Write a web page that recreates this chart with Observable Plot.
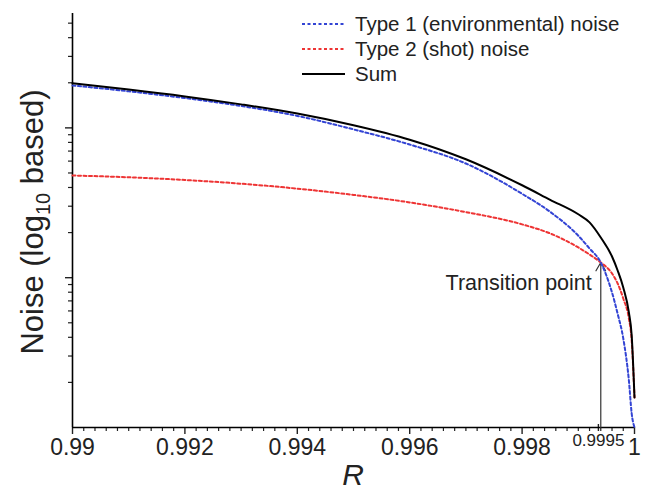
<!DOCTYPE html>
<html><head><meta charset="utf-8">
<script src="https://cdn.jsdelivr.net/npm/d3@7"></script>
<script src="https://cdn.jsdelivr.net/npm/@observablehq/plot@0.6"></script>
<style>
body{margin:0;background:#fff;}
#chart svg{font-family:"Liberation Sans", Arial, sans-serif;background:#fff;}
</style></head><body><div id="chart"></div>
<script>
// ---- data ----
const R = [0.99,0.991,0.992,0.993,0.994,0.995,0.996,0.997,0.998,0.9985,0.999,0.9992,0.9994,0.9996,0.9997,0.9998,0.9999,0.99995,1];
const type1 = [19.19,17.54,15.81,14.0,12.02,9.77,7.74,5.78,3.63,2.75,1.905,1.567,1.263,0.796,0.575,0.393,0.206,0.124,0.1];
const type2 = [4.81,4.68,4.49,4.24,3.93,3.57,3.18,2.74,2.27,1.973,1.591,1.428,1.263,1.067,0.915,0.726,0.534,0.381,0.1586];
const sum = [19.82,18.03,16.22,14.35,12.47,10.42,8.34,6.17,4.14,3.31,2.65,2.34,1.854,1.385,1.117,0.861,0.586,0.411,0.1585];
const seriesNames = ["Type 1 (environmental) noise","Type 2 (shot) noise","Sum"];
const seriesColors = ["#3344d4","#ee3434","#000000"];
const seriesDash = ["3,2.5","3,2.5",null];
const xTicks = [0.99,0.992,0.994,0.996,0.998,1];
const xTickLabels = ["0.99","0.992","0.994","0.996","0.998","1"];
const extraTick = [0.9995];
const extraTickLabel = ["0.9995"];
const yMajor = [1,10];
const transitionR = 0.9994, transitionNoise = 1.263, transitionLabelNoise = 0.915;
const transitionLabel = "Transition point";
const xLabel = "R";
const yLabelParts = ["Noise (log","10"," based)"];

const rows = s => R.map((r,i)=>({r, v:s[i]}));
const minorX = d3.range(0,51).map(i=>0.99+i*0.0002).filter(v=>!xTicks.some(t=>Math.abs(t-v)<1e-9));
const minorY = [0.2,0.3,0.4,0.5,0.6,0.7,0.8,0.9,2,3,4,5,6,7,8,9,20,30,40,50];

const W=646,H=490;
const plot = Plot.plot({
  width:W,height:H,
  marginLeft:72,marginRight:12,marginTop:13,marginBottom:63,
  style:{fontFamily:'"Liberation Sans", Arial, sans-serif',color:"#222"},
  x:{domain:[0.99,1]},
  y:{type:"log",domain:[0.1,58]},
  marks:[
    Plot.axisX(minorX,{tickSize:4,tickFormat:()=>"",label:null,strokeWidth:1.2}),
    Plot.axisX(xTicks,{tickSize:7,tickPadding:4,fontSize:23,label:null,strokeWidth:1.4,
      tickFormat:d=>xTickLabels[xTicks.findIndex(t=>Math.abs(t-d)<1e-9)]}),
    Plot.axisX(extraTick,{tickSize:7,tickPadding:2,fontSize:17,dx:-8,dy:-3,label:null,strokeWidth:1.4,
      tickFormat:()=>extraTickLabel[0]}),
    Plot.axisY(minorY,{tickSize:4,tickFormat:()=>"",label:null,strokeWidth:1.2}),
    Plot.axisY(yMajor,{tickSize:7,tickFormat:()=>"",label:null,strokeWidth:1.4}),
    Plot.ruleX([0.99],{stroke:"#000",strokeWidth:1.6}),
    Plot.ruleY([0.1],{stroke:"#000",strokeWidth:1.6}),
    Plot.arrow([{r:transitionR,y1:0.1,y2:transitionNoise}],{x1:"r",x2:"r",y1:"y1",y2:"y2",stroke:"#333",strokeWidth:1.2,headLength:12}),
    Plot.text([{r:transitionR,v:transitionLabelNoise}],{x:"r",y:"v",text:()=>transitionLabel,textAnchor:"end",dx:-9,fontSize:21.5,fill:"#222"}),
    Plot.line(rows(type2),{x:"r",y:"v",stroke:seriesColors[1],strokeWidth:2,strokeDasharray:seriesDash[1],curve:"monotone-x"}),
    Plot.line(rows(type1),{x:"r",y:"v",stroke:seriesColors[0],strokeWidth:2,strokeDasharray:seriesDash[0],curve:"monotone-x"}),
    Plot.line(rows(sum),{x:"r",y:"v",stroke:seriesColors[2],strokeWidth:2,curve:"monotone-x"})
  ]
});
document.getElementById("chart").appendChild(plot);

const svg = d3.select(plot);
// x label
svg.append("text").attr("x",353).attr("y",485).attr("text-anchor","middle")
  .style("font-size","30px").style("font-style","italic").attr("fill","#222").text(xLabel);
// y label with subscript
const yl = svg.append("text").attr("transform","translate(43,222) rotate(-90)")
  .attr("text-anchor","middle").style("font-size","31px").attr("fill","#222");
yl.append("tspan").text(yLabelParts[0]);
yl.append("tspan").attr("dy",7).style("font-size","20px").text(yLabelParts[1]);
yl.append("tspan").attr("dy",-7).text(yLabelParts[2]);
// legend
seriesNames.forEach((name,i)=>{
  const y = 24 + i*25;
  const ln = svg.append("line").attr("x1",302).attr("x2",345).attr("y1",y).attr("y2",y)
    .attr("stroke",seriesColors[i]).attr("stroke-width",2);
  if(seriesDash[i]) ln.attr("stroke-dasharray",seriesDash[i]);
  svg.append("text").attr("x",355).attr("y",y).attr("dy","0.35em").attr("text-anchor","start")
    .style("font-size","20.5px").attr("fill","#222").text(name);
});
</script></body></html>
